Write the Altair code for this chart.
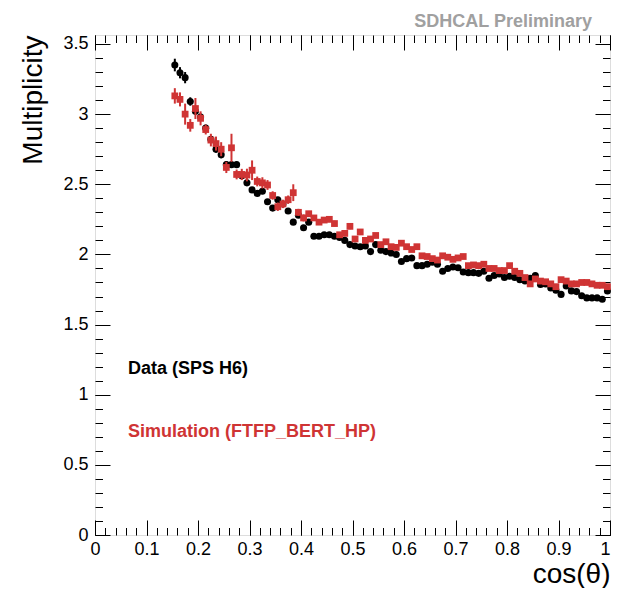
import altair as alt
import pandas as pd

FONT = "Liberation Sans"
W, H = 515, 500

# bin centres of cos(theta)
cos_theta = [0.155, 0.165, 0.175, 0.185, 0.195, 0.205, 0.215, 0.225, 0.235, 0.245,
             0.255, 0.265, 0.275, 0.285, 0.295, 0.305, 0.315, 0.325, 0.335, 0.345,
             0.355, 0.365, 0.375, 0.385, 0.395, 0.405, 0.415, 0.425, 0.435, 0.445,
             0.455, 0.465, 0.475, 0.485, 0.495, 0.505, 0.515, 0.525, 0.535, 0.545,
             0.555, 0.565, 0.575, 0.585, 0.595, 0.605, 0.615, 0.625, 0.635, 0.645,
             0.655, 0.665, 0.675, 0.685, 0.695, 0.705, 0.715, 0.725, 0.735, 0.745,
             0.755, 0.765, 0.775, 0.785, 0.795, 0.805, 0.815, 0.825, 0.835, 0.845,
             0.855, 0.865, 0.875, 0.885, 0.895, 0.905, 0.915, 0.925, 0.935, 0.945,
             0.955, 0.965, 0.975, 0.985, 0.995]

data_mult = [3.35, 3.295, 3.26, 3.09, 3.02, 2.98, 2.90, 2.82, 2.75, 2.71,
             2.64, 2.64, 2.64, 2.56, 2.51, 2.46, 2.435, 2.45, 2.375, 2.33,
             2.39, 2.36, 2.31, 2.23, 2.28, 2.19, 2.23, 2.13, 2.13, 2.14,
             2.14, 2.13, 2.12, 2.10, 2.07, 2.06, 2.055, 2.06, 2.02, 2.07,
             2.03, 2.02, 2.01, 2.00, 1.95, 1.97, 1.975, 1.92, 1.92, 1.93,
             1.945, 1.93, 1.88, 1.90, 1.91, 1.905, 1.875, 1.87, 1.87, 1.865,
             1.88, 1.83, 1.85, 1.86, 1.835, 1.845, 1.835, 1.82, 1.81, 1.83,
             1.85, 1.785, 1.79, 1.76, 1.745, 1.715, 1.775, 1.74, 1.735, 1.705,
             1.69, 1.69, 1.69, 1.68, 1.74]
data_err = [0.045, 0.04, 0.04, 0.03, 0.025, 0.025, 0.025, 0.025, 0.025, 0.025,
            0.025, 0.02, 0.02, 0.02, 0.02, 0.02, 0.02, 0.02, 0.02, 0.02,
            0.02, 0.02, 0.02, 0.02, 0.02, 0.02, 0.015, 0.015, 0.015, 0.015,
            0.015, 0.015, 0.015, 0.015, 0.015, 0.015, 0.015, 0.015, 0.015, 0.015,
            0.015, 0.01, 0.01, 0.01, 0.01, 0.01, 0.01, 0.01, 0.01, 0.01,
            0.01, 0.01, 0.01, 0.01, 0.01, 0.01, 0.01, 0.01, 0.01, 0.01,
            0.01, 0.01, 0.01, 0.01, 0.01, 0.01, 0.01, 0.01, 0.01, 0.01,
            0.01, 0.01, 0.01, 0.01, 0.01, 0.01, 0.01, 0.01, 0.01, 0.01,
            0.01, 0.01, 0.01, 0.01, 0.01]

sim_mult = [3.13, 3.105, 3.00, 2.92, 3.04, 2.97, 2.89, 2.815, 2.79, 2.75,
            2.62, 2.76, 2.57, 2.57, 2.566, 2.60, 2.52, 2.51, 2.495, 2.42,
            2.34, 2.36, 2.39, 2.44, 2.30, 2.26, 2.29, 2.26, 2.23, 2.245,
            2.25, 2.22, 2.14, 2.15, 2.20, 2.11, 2.16, 2.10, 2.11, 2.135,
            2.07, 2.09, 2.055, 2.05, 2.08, 2.055, 2.035, 2.055, 1.99, 1.985,
            1.97, 1.96, 1.99, 1.98, 1.965, 1.975, 1.985, 1.92, 1.925, 1.92,
            1.93, 1.90, 1.90, 1.885, 1.885, 1.92, 1.88, 1.865, 1.835, 1.79,
            1.825, 1.81, 1.805, 1.79, 1.77, 1.82, 1.81, 1.79, 1.79, 1.80,
            1.80, 1.79, 1.78, 1.78, 1.77]
sim_err = [0.055, 0.05, 0.075, 0.045, 0.075, 0.05, 0.035, 0.045, 0.05, 0.05,
           0.04, 0.10, 0.035, 0.04, 0.045, 0.07, 0.035, 0.04, 0.035, 0.03,
           0.03, 0.03, 0.03, 0.06, 0.025, 0.025, 0.02, 0.02, 0.02, 0.02,
           0.02, 0.02, 0.02, 0.02, 0.02, 0.02, 0.015, 0.015, 0.015, 0.015,
           0.015, 0.015, 0.015, 0.015, 0.015, 0.015, 0.015, 0.015, 0.015, 0.015,
           0.015, 0.012, 0.012, 0.012, 0.012, 0.012, 0.012, 0.012, 0.012, 0.012,
           0.012, 0.012, 0.012, 0.012, 0.012, 0.012, 0.012, 0.012, 0.012, 0.012,
           0.012, 0.012, 0.012, 0.012, 0.012, 0.012, 0.012, 0.012, 0.012, 0.012,
           0.012, 0.012, 0.012, 0.012, 0.012]

x_major = [0, 0.1, 0.2, 0.3, 0.4, 0.5, 0.6, 0.7, 0.8, 0.9, 1]
x_minor = [round(i * 0.02, 2) for i in range(51)]
y_major = [0, 0.5, 1, 1.5, 2, 2.5, 3, 3.5]
y_minor = [round(i * 0.1, 1) for i in range(36)]

legend_labels = ["Data (SPS H6)", "Simulation (FTFP_BERT_HP)"]
legend_colors = ["#000000", "#cf3434"]
legend_x = [0.064, 0.064]
legend_y = [1.145, 0.70]

banner_text = ["SDHCAL Preliminary"]
banner_x = [0.965]
banner_y = [3.62]

RED = "#cf3434"

dd = pd.DataFrame({"x": cos_theta, "y": data_mult, "err": data_err})
dd["lo"] = dd["y"] - dd["err"]
dd["hi"] = dd["y"] + dd["err"]
sd = pd.DataFrame({"x": cos_theta, "y": sim_mult, "err": sim_err})
sd["lo"] = sd["y"] - sd["err"]
sd["hi"] = sd["y"] + sd["err"]
ld = pd.DataFrame({"x": legend_x, "y": legend_y, "label": legend_labels, "color": legend_colors})
bd = pd.DataFrame({"x": banner_x, "y": banner_y, "label": banner_text})

xs = alt.Scale(domain=[0, 1], nice=False, zero=False)
ys = alt.Scale(domain=[0, 3.564], nice=False, zero=False)

lab = "format(datum.value, '~g')"

x_main = alt.Axis(orient="bottom", values=x_major, ticks=False, tickSize=0, domain=False, grid=False,
                  labelFont=FONT, labelFontSize=18, labelColor="black", labelPadding=5,
                  labelExpr=lab, labelFlush=False, labelOverlap=False,
                  labelAlign={"condition": {"test": "datum.value == 1", "value": "right"},
                              "value": "center"},
                  title="cos(θ)", titleFont=FONT, titleFontSize=28, titleFontWeight="normal",
                  titleColor="black", titleAlign="right", titleBaseline="alphabetic",
                  titleX=W, titleY=47)
y_main = alt.Axis(orient="left", values=y_major, ticks=False, tickSize=0, domain=False, grid=False,
                  labelFont=FONT, labelFontSize=18, labelColor="black", labelPadding=7,
                  labelExpr=lab, labelFlush=False, labelOverlap=False,
                  title="Multiplicity", titleFont=FONT, titleFontSize=28, titleFontWeight="normal",
                  titleColor="black", titleAngle=270, titleAlign="right", titleBaseline="alphabetic",
                  titleX=-54, titleY=0)


def tick_axis(orient, offset, values, size):
    return alt.Axis(orient=orient, offset=offset, values=values, labels=False, domain=False,
                    grid=False, tickSize=size, tickColor="black", tickWidth=1, title=None)


def tick_layer(xaxis=None, yaxis=None):
    return alt.Chart(dd).mark_point(opacity=0, size=1).encode(
        x=alt.X("x:Q", scale=xs, axis=xaxis),
        y=alt.Y("y:Q", scale=ys, axis=yaxis),
    )


data_err_layer = alt.Chart(dd).mark_rule(color="black", strokeWidth=2).encode(
    x=alt.X("x:Q", scale=xs, axis=x_main),
    y=alt.Y("lo:Q", scale=ys, axis=y_main),
    y2="hi:Q",
)
data_pts = alt.Chart(dd).mark_circle(color="black", opacity=1, size=50).encode(
    x=alt.X("x:Q", scale=xs, axis=None),
    y=alt.Y("y:Q", scale=ys, axis=None),
)
sim_err_layer = alt.Chart(sd).mark_rule(color=RED, strokeWidth=2).encode(
    x=alt.X("x:Q", scale=xs, axis=None),
    y=alt.Y("lo:Q", scale=ys, axis=None),
    y2="hi:Q",
)
sim_pts = alt.Chart(sd).mark_square(color=RED, opacity=1, size=46).encode(
    x=alt.X("x:Q", scale=xs, axis=None),
    y=alt.Y("y:Q", scale=ys, axis=None),
)
legend = alt.Chart(ld).mark_text(align="left", baseline="alphabetic", font=FONT,
                                 fontSize=18, fontWeight="bold").encode(
    x=alt.X("x:Q", scale=xs, axis=None),
    y=alt.Y("y:Q", scale=ys, axis=None),
    text="label:N",
    color=alt.Color("color:N", scale=None),
)
banner = alt.Chart(bd).mark_text(align="right", baseline="alphabetic", font=FONT,
                                 fontSize=18, fontWeight="bold", color="#a0a0a0").encode(
    x=alt.X("x:Q", scale=xs, axis=None),
    y=alt.Y("y:Q", scale=ys, axis=None),
    text="label:N",
)

ticks = [
    tick_layer(xaxis=tick_axis("top", -H, x_major, 15)),
    tick_layer(xaxis=tick_axis("top", -H, x_minor, 7.5)),
    tick_layer(xaxis=tick_axis("bottom", -H, x_major, 15)),
    tick_layer(xaxis=tick_axis("bottom", -H, x_minor, 7.5)),
    tick_layer(yaxis=tick_axis("right", -W, y_major, 15)),
    tick_layer(yaxis=tick_axis("right", -W, y_minor, 7.5)),
    tick_layer(yaxis=tick_axis("left", -W, y_major, 15)),
    tick_layer(yaxis=tick_axis("left", -W, y_minor, 7.5)),
]

chart = alt.layer(
    data_err_layer, data_pts, sim_err_layer, sim_pts, legend, banner, *ticks
).resolve_axis(
    x="independent", y="independent"
).properties(
    width=W, height=H,
    autosize=alt.AutoSizeParams(type="none"),
    padding={"left": 87, "top": 27, "right": 2, "bottom": 53},
).configure_view(
    stroke="black", strokeWidth=1.2
).configure(background="white")

chart.save("out.html", embed_options={"renderer": "svg", "actions": False})
